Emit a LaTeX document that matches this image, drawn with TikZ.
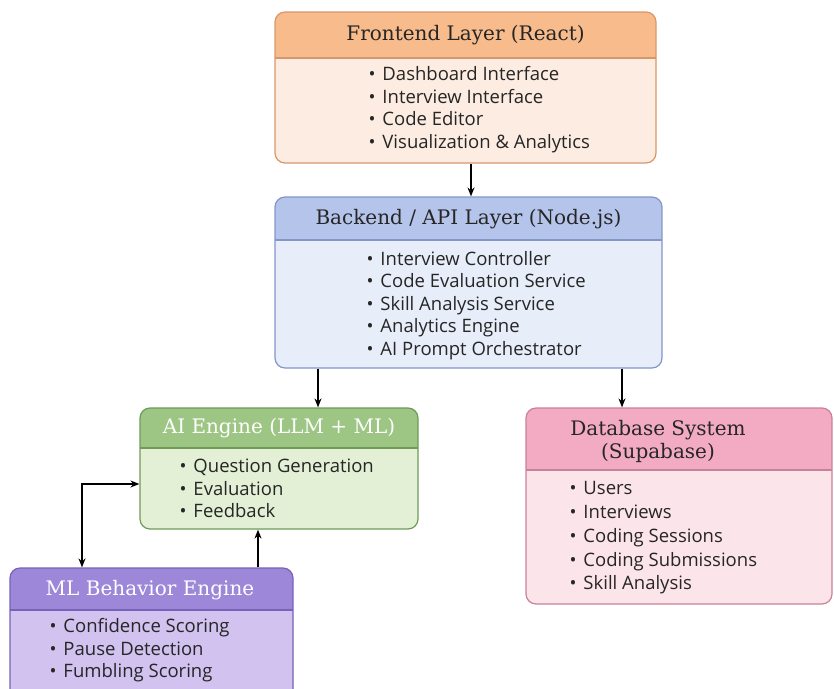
\documentclass[tikz,border=0pt]{standalone}
\usepackage{fontspec}
\setmainfont{DejaVu Serif}
\setsansfont{Open Sans}
\usetikzlibrary{arrows.meta}

\definecolor{feline}{HTML}{D8976A}
\definecolor{fehead}{HTML}{F7BB8C}
\definecolor{febody}{HTML}{FDECE1}
\definecolor{beline}{HTML}{8496C8}
\definecolor{behead}{HTML}{B5C4EA}
\definecolor{bebody}{HTML}{E7EDF9}
\definecolor{ailine}{HTML}{6F9B57}
\definecolor{aihead}{HTML}{9DC584}
\definecolor{aibody}{HTML}{E3F0D6}
\definecolor{dbline}{HTML}{C98199}
\definecolor{dbhead}{HTML}{F2ABC2}
\definecolor{dbbody}{HTML}{FCE4EB}
\definecolor{mlline}{HTML}{7762BA}
\definecolor{mlhead}{HTML}{9D87D8}
\definecolor{mlbody}{HTML}{D1C2F0}

\tikzset{
  layer/.style n args={4}{draw=#1, fill=#3, line width=1.2pt, rounded corners=10pt,
    path picture={
      \fill[#2, sharp corners] (path picture bounding box.north west) rectangle
        ([yshift=-#4]path picture bounding box.north east);
      \draw[#1, line width=1.2pt, sharp corners] ([yshift=-#4]path picture bounding box.north west) --
        ([yshift=-#4]path picture bounding box.north east);
    }},
  headtxt/.style={font=\fontsize{20}{23}\selectfont, text=#1},
  listtxt/.style={font=\sffamily\fontsize{18.5}{22.5}\selectfont, align=left, anchor=west, text=black!85},
  arr/.style={-{Stealth[length=9pt,width=7pt]}, line width=1.4pt},
  arr2/.style={{Stealth[length=9pt,width=7pt]}-{Stealth[length=9pt,width=7pt]}, line width=1.4pt}
}

\newcommand{\itm}{\textbullet\hspace{7pt}}

\begin{document}
\begin{tikzpicture}[x=1pt,y=-1pt]
  \useasboundingbox (0,0) rectangle (834,688);
  \clip (0,0) rectangle (834,688);

  % boxes
  \node[layer={feline}{fehead}{febody}{46pt}, minimum width=381pt, minimum height=151pt] (fe) at (465.5,87.5) {};
  \node[layer={beline}{behead}{bebody}{43pt}, minimum width=387pt, minimum height=171pt] (be) at (468.5,282.5) {};
  \node[layer={ailine}{aihead}{aibody}{40pt}, minimum width=278pt, minimum height=121pt] (ai) at (279,468.5) {};
  \node[layer={dbline}{dbhead}{dbbody}{62pt}, minimum width=306pt, minimum height=196pt] (db) at (679,506) {};
  \node[layer={mlline}{mlhead}{mlbody}{42pt}, minimum width=283pt, minimum height=140pt] (ml) at (151.5,638) {};

  % headers
  \node[headtxt=black!85] (fe-head) at (465.5,35.5) {Frontend Layer (React)};
  \node[headtxt=black!85] (be-head) at (468.5,219) {Backend / API Layer (Node.js)};
  \node[headtxt=white] (ai-head) at (279,428.5) {AI Engine (LLM + ML)};
  \node[headtxt=black!85, align=center] (db-head) at (658,441) {Database System\\(Supabase)};
  \node[headtxt=white] (ml-head) at (150,590.5) {ML Behavior Engine};

  % lists
  \node[listtxt] (fe-list) at (365,109.5) {\itm Dashboard Interface\\\itm Interview Interface\\\itm Code Editor\\\itm Visualization \& Analytics};
  \node[listtxt] (be-list) at (363,305.5) {\itm Interview Controller\\\itm Code Evaluation Service\\\itm Skill Analysis Service\\\itm Analytics Engine\\\itm AI Prompt Orchestrator};
  \node[listtxt] (ai-list) at (176,488.5) {\itm Question Generation\\\itm Evaluation\\\itm Feedback};
  \node[listtxt, font=\sffamily\fontsize{18.5}{23.8}\selectfont] (db-list) at (566,538) {\itm Users\\\itm Interviews\\\itm Coding Sessions\\\itm Coding Submissions\\\itm Skill Analysis};
  \node[listtxt] (ml-list) at (46,650.5) {\itm Confidence Scoring\\\itm Pause Detection\\\itm Fumbling Scoring};

  % connectors
  \draw[arr] ([xshift=5.5pt]fe.south) -- ([xshift=5.5pt]fe.south |- be.north);
  \draw[arr] ([xshift=39pt]ai.north |- be.south) -- ([xshift=39pt]ai.north);
  \draw[arr] ([xshift=-57pt]db.north |- be.south) -- ([xshift=-57pt]db.north);
  \draw[arr] ([xshift=106.5pt]ml.north) -- ([xshift=106.5pt]ml.north |- ai.south);
  \draw[arr2] ([yshift=-15.5pt]ai.west) -| ([xshift=-69.5pt]ml.north);
\end{tikzpicture}
\end{document}
